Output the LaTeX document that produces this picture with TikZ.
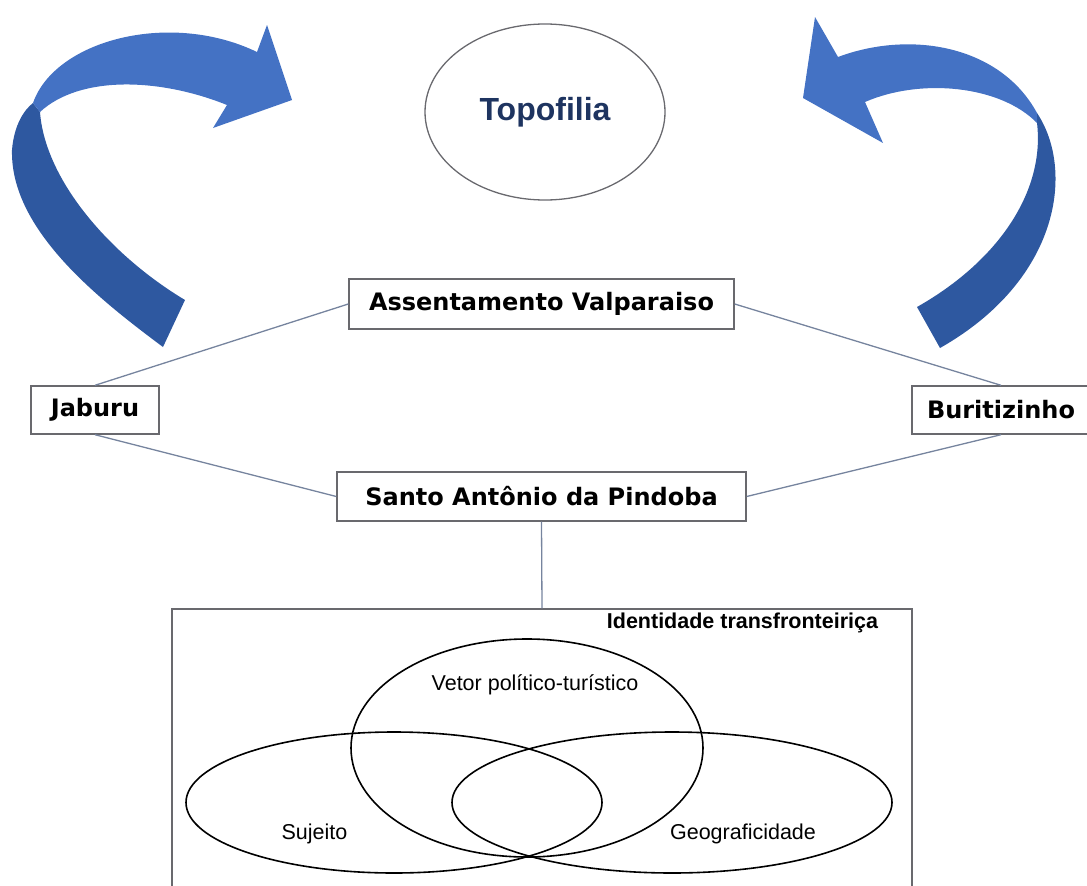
\documentclass[tikz,border=0pt]{standalone}
\usepackage{fontspec}
\setmainfont{Liberation Sans}
\newfontfamily\vfont{DejaVu Sans}
\usetikzlibrary{shapes.geometric}
\definecolor{arrlite}{RGB}{68,114,196}
\definecolor{arrdark}{RGB}{46,88,160}
\definecolor{boxgray}{RGB}{105,105,110}
\definecolor{conncol}{RGB}{118,132,158}
\definecolor{navytxt}{RGB}{30,52,96}
\begin{document}
\begin{tikzpicture}[x=1pt,y=-1pt,
  lbox/.style={draw=boxgray, line width=1.4pt, fill=white, inner sep=0pt,
    font=\vfont\bfseries\fontsize{24}{28}\selectfont, text=black},
  conn/.style={draw=conncol, line width=1.3pt},
  vennshape/.style={ellipse, draw=black, line width=1.6pt, inner sep=0pt},
  venntxt/.style={font=\fontsize{21.5}{24}\selectfont, text=black, inner sep=0pt},
]
\useasboundingbox (0,0) rectangle (1087,886);
\clip (0,0) rectangle (1087,886);

% left curved arrow
\fill[arrdark] (163,347) .. controls (100,300) and (10,230) .. (12,150)
  .. controls (14,125) and (24,110) .. (33,103) -- (40,112)
  .. controls (45,180) and (110,255) .. (185,300) -- cycle;
\fill[arrlite] (33,103) .. controls (55,40) and (170,10) .. (257,52)
  -- (267,25) -- (292,100) -- (213,128) -- (227,105)
  .. controls (160,78) and (80,75) .. (40,112) -- cycle;

% right curved arrow
\fill[arrlite] (838,57) .. controls (910,30) and (1000,45) .. (1037,113)
  -- (1037,123) .. controls (1000,85) and (920,78) .. (865,102)
  -- (883,143) -- (803,98) -- (815,17) -- cycle;
\fill[arrdark] (1037,113) .. controls (1075,170) and (1060,280) .. (940,348)
  -- (917,307) .. controls (1000,260) and (1045,190) .. (1037,123) -- cycle;

% Topofilia
\node[ellipse, draw=boxgray, line width=1.3pt, minimum width=240pt, minimum height=176pt,
  inner sep=0pt, font=\bfseries\fontsize{32}{36}\selectfont, text=navytxt] (topo) at (545,112) {Topofilia};

% boxes
\node[lbox, minimum width=385pt, minimum height=50pt] (asv) at (541.5,304) {Assentamento Valparaiso};
\node[lbox, minimum width=128pt, minimum height=48pt] (jab) at (95,410) {Jaburu};
\node[lbox, minimum width=178pt, minimum height=48pt] (bur) at (1001,410) {Buritizinho};
\node[lbox, minimum width=409pt, minimum height=49pt] (pin) at (541.5,496.5) {Santo Antônio da Pindoba};

% big frame
\node[draw=boxgray, line width=1.4pt, minimum width=740pt, minimum height=286pt, inner sep=0pt] (idbox) at (542,752) {};
\node[font=\bfseries\fontsize{21.5}{24}\selectfont, text=black, inner sep=0pt] (idtxt) at (742.5,623) {Identidade transfronteiriça};

% connectors
\draw[conn] (jab.north) -- (asv.west);
\draw[conn] (asv.east) -- (bur.north);
\draw[conn] (jab.south) -- (pin.west);
\draw[conn] (bur.south) -- (pin.east);
\draw[conn] (pin.south) -- (idbox.north);

% Venn
\node[vennshape, minimum width=352pt, minimum height=218pt] (vetor) at (527,748) {};
\node[vennshape, minimum width=416pt, minimum height=141pt] (suj) at (394,802.5) {};
\node[vennshape, minimum width=440pt, minimum height=141pt] (geo) at (672,802.5) {};
\node[venntxt] (vetortxt) at (535,685) {Vetor político-turístico};
\node[venntxt] (sujtxt) at (314.5,834) {Sujeito};
\node[venntxt] (geotxt) at (743,834) {Geograficidade};
\end{tikzpicture}
\end{document}
